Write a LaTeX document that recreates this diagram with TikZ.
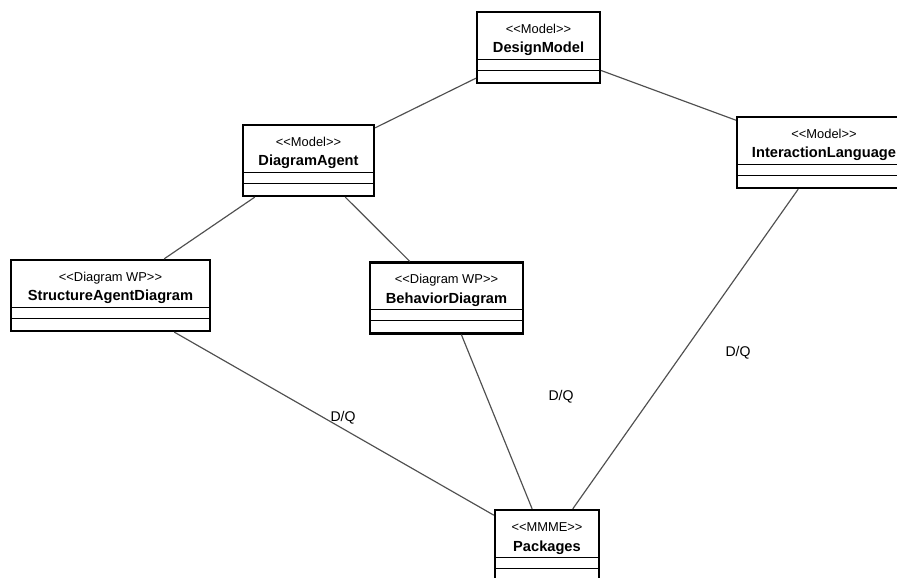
\documentclass[tikz,border=0pt]{standalone}
\usepackage{fontspec}
\setmainfont{Liberation Sans}[Ligatures=TeXOff]
\usepackage{xcolor}
\usepackage{tikz}
\usetikzlibrary{arrows.meta}

\definecolor{linegray}{HTML}{505050}

\begin{document}
\begin{tikzpicture}[x=0.3mm, y=-0.3mm, every node/.style={font=\fontsize{12.5pt}{17pt}\selectfont},
  umlbox/.style={draw, line width=1.9pt, fill=white, align=center, inner ysep=0pt,
    text height=12.3mm, text depth=9mm,
    path picture={
      \draw[line width=0.8pt] ([yshift=7.2mm]path picture bounding box.south west) -- ([yshift=7.2mm]path picture bounding box.south east);
      \draw[line width=0.8pt] ([yshift=3.9mm]path picture bounding box.south west) -- ([yshift=3.9mm]path picture bounding box.south east);
    }},
  assoc/.style={draw=linegray, line width=1pt},
  dq/.style={font=\fontsize{12pt}{14pt}\selectfont, inner sep=0pt}]
\clip (0,0) rectangle (897,578);
\newcommand{\stereo}[1]{{\fontsize{11pt}{17pt}\selectfont <<#1>>}}
\node[umlbox, minimum width=36.9mm] (dm) at (538.5,47.5) {\stereo{Model}\\\textbf{DesignModel}};
\node[umlbox, minimum width=39.3mm] (da) at (308.5,160.5) {\stereo{Model}\\\textbf{DiagramAgent}};
\node[umlbox, minimum width=52.2mm] (il) at (824,152.5) {\stereo{Model}\\\textbf{InteractionLanguage}};
\node[umlbox, minimum width=59.7mm] (sad) at (110.5,295.5) {\stereo{Diagram WP}\\\textbf{StructureAgentDiagram}};
\node[umlbox, minimum width=45.9mm] (bd) at (446.5,298) {\stereo{Diagram WP}\\\textbf{BehaviorDiagram}};
\node[umlbox, minimum width=31.2mm] (pk) at (547,545.5) {\stereo{MMME}\\\textbf{Packages}};
% model hierarchy
\foreach \a/\b in {dm/da, dm/il, da/sad, da/bd}{\draw[assoc] (\a) -- (\b);}
% D/Q links to the packages
\foreach \a/\x/\y in {sad/343/418, bd/561/397, il/738/353}{
  \draw[assoc] (\a) -- (pk);
  \node[dq] (q\a) at (\x,\y) {D/Q};
}
\end{tikzpicture}
\end{document}
